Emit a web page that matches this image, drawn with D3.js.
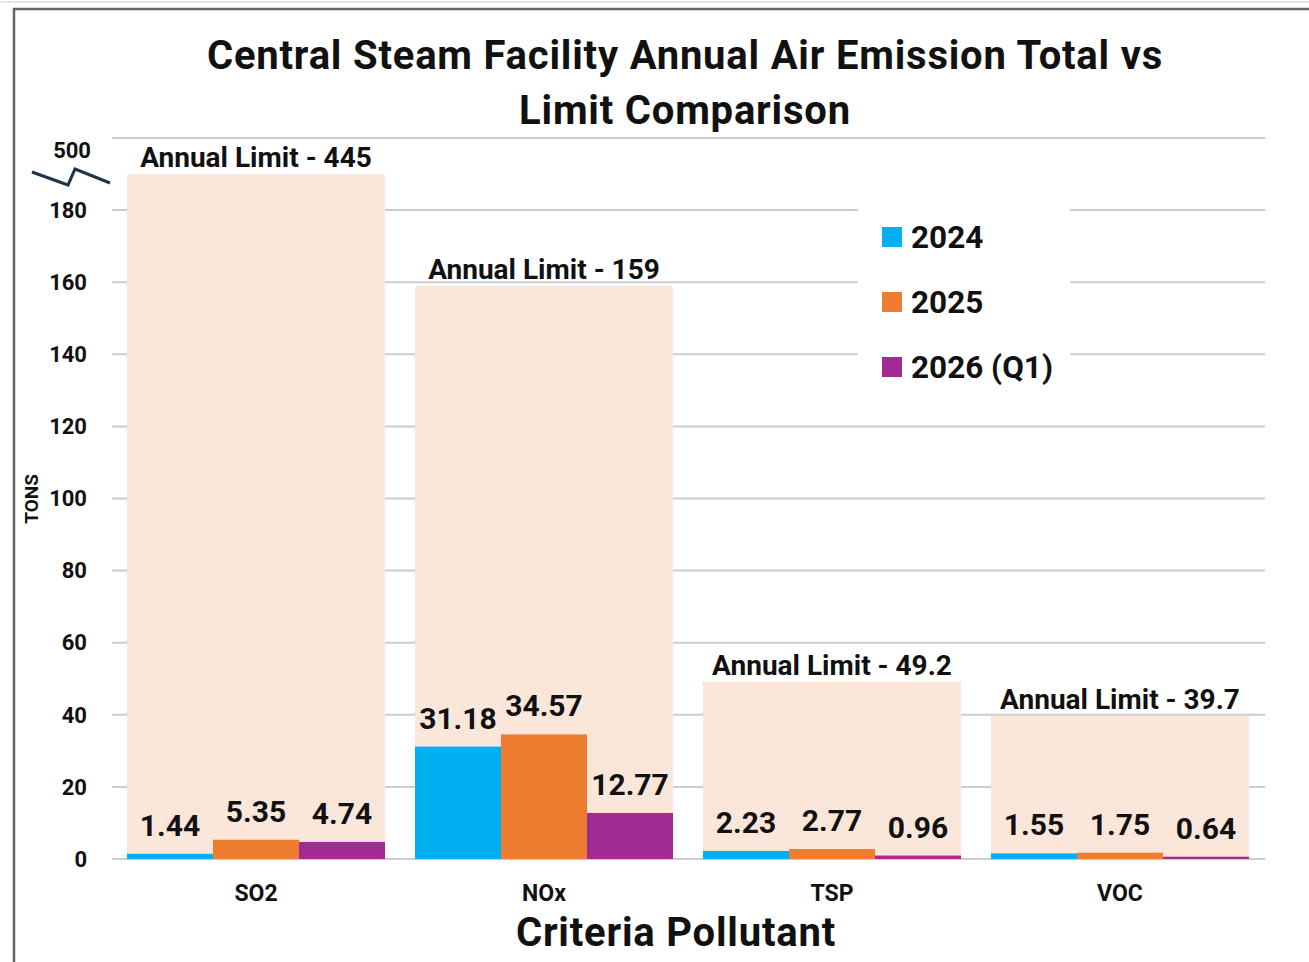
<!DOCTYPE html>
<html>
<head>
<meta charset="utf-8">
<script src="https://cdn.jsdelivr.net/npm/d3@7"></script>
<style>
	body { margin: 0; background: #fff; }
	text { font-family: Roboto, "Noto Sans", sans-serif; font-weight: 700; fill: #111; }
</style>
</head>
<body>
<div id="chart"></div>
<script>
var pollutants = ['SO2', 'NOx', 'TSP', 'VOC'];
var years = ['2024', '2025', '2026 (Q1)'];
var yearColors = ['#00b0f0', '#ed7d31', '#a02b93'];
var limits = [445, 159, 49.2, 39.7];
var emissions = [
	[1.44, 5.35, 4.74],
	[31.18, 34.57, 12.77],
	[2.23, 2.77, 0.96],
	[1.55, 1.75, 0.64]
];
var tickValues = [0, 20, 40, 60, 80, 100, 120, 140, 160, 180, 200];
var tickLabels = ['0', '20', '40', '60', '80', '100', '120', '140', '160', '180', '500'];
var breakAt = 190; // bars over 180 are cut at the axis break

var width = 1309, height = 962;
var svg = d3.select('#chart').append('svg')
	.attr('width', width)
	.attr('height', height);

var defs = svg.append('defs');
var pat = defs.append('pattern')
	.attr('id', 'dots')
	.attr('width', 4).attr('height', 4)
	.attr('patternUnits', 'userSpaceOnUse');
pat.append('rect').attr('width', 4).attr('height', 4).attr('fill', '#fce9de');
pat.append('rect').attr('x', 0).attr('y', 0).attr('width', 1).attr('height', 1).attr('fill', '#f7d4c2');
pat.append('rect').attr('x', 2).attr('y', 2).attr('width', 1).attr('height', 1).attr('fill', '#f7d4c2');

// frame
svg.append('line').attr('x1', 0).attr('x2', width).attr('y1', 2).attr('y2', 2)
	.attr('stroke', '#e4e4e4').attr('stroke-width', 2);
svg.append('path').attr('d', 'M14,' + height + 'V9H' + width)
	.attr('fill', 'none').attr('stroke', '#666').attr('stroke-width', 2.5);

var x = d3.scaleBand()
	.domain(pollutants)
	.range([112, 1264])
	.paddingInner(0.104)
	.paddingOuter(0.052);
var xYear = d3.scaleBand()
	.domain(years)
	.range([0, x.bandwidth()]);
var y = d3.scaleLinear()
	.domain([0, 200])
	.range([859, 138]);

// grid
svg.append('g').selectAll('line')
	.data(tickValues)
	.enter().append('line')
	.attr('x1', 112).attr('x2', 1265)
	.attr('y1', function(d) { return y(d); })
	.attr('y2', function(d) { return y(d); })
	.attr('stroke', '#c9cdd2')
	.attr('stroke-width', 2);

// tick labels
svg.append('g').selectAll('text')
	.data(tickValues)
	.enter().append('text')
	.attr('x', function(d) { return d == 200 ? 91 : 87; })
	.attr('y', function(d) { return y(d) + (d == 200 ? 12 : 0); })
	.attr('dy', '0.35em')
	.attr('text-anchor', 'end')
	.attr('font-size', 22)
	.text(function(d, i) { return tickLabels[i]; });

// axis break mark
svg.append('polyline')
	.attr('points', '32,172 68,185 75,169 110,183')
	.attr('fill', 'none')
	.attr('stroke', '#1f3447')
	.attr('stroke-width', 3);

// limit bars
var groups = svg.append('g').selectAll('g')
	.data(pollutants)
	.enter().append('g')
	.attr('transform', function(d) { return 'translate(' + x(d) + ',0)'; });

groups.append('rect')
	.attr('x', 0)
	.attr('width', x.bandwidth())
	.attr('y', function(d, i) { return y(Math.min(limits[i], breakAt)); })
	.attr('height', function(d, i) { return y(0) - y(Math.min(limits[i], breakAt)); })
	.attr('fill', 'url(#dots)');

groups.append('text')
	.attr('x', x.bandwidth() / 2)
	.attr('y', function(d, i) { return y(Math.min(limits[i], breakAt)) - 7; })
	.attr('text-anchor', 'middle')
	.attr('font-size', 28)
	.text(function(d, i) { return 'Annual Limit - ' + limits[i]; });

// emission bars
var bars = groups.selectAll('.bar')
	.data(function(d, i) { return emissions[i]; })
	.enter().append('g')
	.attr('class', 'bar');

bars.append('rect')
	.attr('x', function(d, j) { return xYear(years[j]); })
	.attr('width', xYear.bandwidth())
	.attr('y', function(d) { return y(d); })
	.attr('height', function(d) { return Math.max(y(0) - y(d), 1); })
	.attr('fill', function(d, j) { return yearColors[j]; });

bars.append('text')
	.attr('x', function(d, j) { return xYear(years[j]) + xYear.bandwidth() / 2; })
	.attr('y', function(d) { return y(d) - 18; })
	.attr('text-anchor', 'middle')
	.attr('font-size', 30)
	.text(function(d) { return d.toFixed(2); });

// category labels
svg.append('g').selectAll('text')
	.data(pollutants)
	.enter().append('text')
	.attr('x', function(d) { return x(d) + x.bandwidth() / 2; })
	.attr('y', 901)
	.attr('text-anchor', 'middle')
	.attr('font-size', 23)
	.text(function(d) { return d; });

// legend
var legend = svg.append('g');
legend.append('rect')
	.attr('x', 858).attr('y', 196)
	.attr('width', 212).attr('height', 200)
	.attr('fill', '#fff');
var items = legend.selectAll('g')
	.data(years)
	.enter().append('g')
	.attr('transform', function(d, i) { return 'translate(882,' + (237 + i * 65) + ')'; });
items.append('rect')
	.attr('x', 0).attr('y', -10)
	.attr('width', 20).attr('height', 20)
	.attr('fill', function(d, i) { return yearColors[i]; });
items.append('text')
	.attr('x', 29).attr('y', 0)
	.attr('dy', '0.36em')
	.attr('font-size', 31.5)
	.text(function(d) { return d; });

// titles
svg.append('text')
	.attr('x', 685).attr('y', 69)
	.attr('text-anchor', 'middle')
	.attr('font-size', 40)
	.attr('letter-spacing', 0.8)
	.text('Central Steam Facility Annual Air Emission Total vs');
svg.append('text')
	.attr('x', 685).attr('y', 124)
	.attr('text-anchor', 'middle')
	.attr('font-size', 40)
	.attr('letter-spacing', 0.8)
	.text('Limit Comparison');

svg.append('text')
	.attr('transform', 'translate(38,499) rotate(-90)')
	.attr('text-anchor', 'middle')
	.attr('font-size', 19)
	.text('TONS');

svg.append('text')
	.attr('x', 676).attr('y', 946)
	.attr('text-anchor', 'middle')
	.attr('font-size', 40)
	.attr('letter-spacing', 0.8)
	.text('Criteria Pollutant');
</script>
</body>
</html>
